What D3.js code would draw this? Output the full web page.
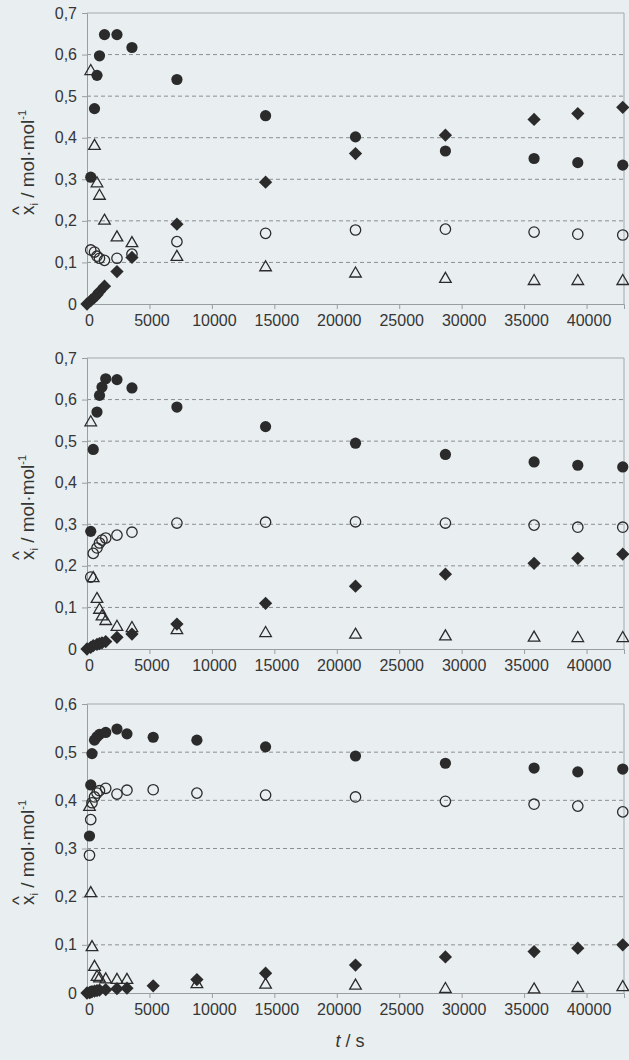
<!DOCTYPE html>
<html><head><meta charset="utf-8">
<script src="https://cdn.jsdelivr.net/npm/d3@7"></script>
<style>html,body{margin:0;padding:0;background:#e9eef0;} svg{display:block;}</style>
</head><body><svg id="c" width="629" height="1060"></svg>
<script>
// ---------- data ----------
const xTickValues = [0, 5000, 10000, 15000, 20000, 25000, 30000, 35000, 40000];
const yTicksA = [0, 0.1, 0.2, 0.3, 0.4, 0.5, 0.6, 0.7];
const yTicksB = [0, 0.1, 0.2, 0.3, 0.4, 0.5, 0.6];

// Panel 1
const time1 = [0, 300, 600, 800, 1000, 1400, 2400, 3600, 7200, 14300, 21500, 28700, 35800, 39300, 42900];
const filled1 = [null, 0.305, 0.47, 0.55, 0.597, 0.648, 0.648, 0.617, 0.54, 0.453, 0.402, 0.368, 0.35, 0.34, 0.334];
const open1 = [null, 0.13, 0.125, 0.115, 0.11, 0.105, 0.11, 0.12, 0.15, 0.17, 0.178, 0.18, 0.173, 0.168, 0.166];
const diamond1 = [0, 0.008, 0.016, 0.022, 0.03, 0.043, 0.078, 0.112, 0.192, 0.293, 0.362, 0.406, 0.444, 0.458, 0.473];
const triangle1 = [null, 0.56, 0.38, 0.29, 0.26, 0.2, 0.16, 0.146, 0.113, 0.088, 0.073, 0.06, 0.055, 0.055, 0.055];

// Panel 2
const time2 = [0, 300, 500, 800, 1000, 1200, 1500, 2400, 3600, 7200, 14300, 21500, 28700, 35800, 39300, 42900];
const filled2 = [null, 0.283, 0.48, 0.57, 0.61, 0.63, 0.65, 0.648, 0.628, 0.582, 0.535, 0.495, 0.468, 0.45, 0.442, 0.438];
const open2 = [null, 0.173, 0.23, 0.243, 0.255, 0.262, 0.267, 0.274, 0.281, 0.303, 0.305, 0.306, 0.303, 0.298, 0.293, 0.293];
const diamond2 = [0, 0.004, 0.008, 0.011, 0.013, 0.015, 0.018, 0.028, 0.036, 0.06, 0.11, 0.151, 0.18, 0.206, 0.218, 0.228];
const triangle2 = [null, 0.545, 0.17, 0.12, 0.094, 0.078, 0.067, 0.053, 0.05, 0.045, 0.038, 0.034, 0.03, 0.027, 0.026, 0.026];

// Panel 3
const time3 = [0, 200, 300, 400, 600, 800, 1000, 1500, 2400, 3200, 5300, 8800, 14300, 21500, 28700, 35800, 39300, 42900];
const filled3 = [null, 0.326, 0.432, 0.497, 0.525, 0.532, 0.537, 0.541, 0.548, 0.538, 0.531, 0.525, 0.511, 0.492, 0.477, 0.467, 0.459, 0.465];
const open3 = [null, 0.286, 0.36, 0.395, 0.407, 0.415, 0.42, 0.425, 0.413, 0.421, 0.422, 0.415, 0.411, 0.407, 0.398, 0.392, 0.388, 0.376];
const diamond3 = [0, 0.001, 0.002, 0.003, 0.004, 0.005, 0.006, 0.007, 0.009, 0.01, 0.015, 0.028, 0.041, 0.058, 0.075, 0.086, 0.093, 0.1];
const triangle3 = [null, 0.386, 0.207, 0.095, 0.054, 0.033, 0.03, 0.028, 0.027, 0.027, null, 0.018, 0.017, 0.015, 0.008, 0.007, 0.01, 0.012];

// ---------- layout ----------
const svg = d3.select('#c');
svg.append('rect').attr('width', 629).attr('height', 1060).attr('fill', '#e9eef0');
const font = 'Liberation Sans, Arial, sans-serif';
const ink = '#2b2b2b';
const textCol = '#363636';
const x = d3.scaleLinear().domain([0, 43000]).range([87, 624]);

const panels = [
  {t: time1, f: filled1, o: open1, d: diamond1, tr: triangle1, top: 13, bottom: 304, ymax: 0.7, ticks: yTicksA},
  {t: time2, f: filled2, o: open2, d: diamond2, tr: triangle2, top: 358, bottom: 649, ymax: 0.7, ticks: yTicksA},
  {t: time3, f: filled3, o: open3, d: diamond3, tr: triangle3, top: 704, bottom: 993, ymax: 0.6, ticks: yTicksB}
];

const fmtY = v => v === 0 ? '0' : v.toFixed(1).replace('.', ',');

const symCircle = d3.symbol().type(d3.symbolCircle).size(Math.PI * 5.6 * 5.6);
const symOpen = d3.symbol().type(d3.symbolCircle).size(Math.PI * 5.2 * 5.2);
const symSquare = d3.symbol().type(d3.symbolSquare).size(88);
const symTri = d3.symbol().type(d3.symbolTriangle).size(58);

panels.forEach((p, i) => {
  const y = d3.scaleLinear().domain([0, p.ymax]).range([p.bottom, p.top]);
  const g = svg.append('g');

  g.selectAll('line.grid').data(p.ticks.filter(v => v > 0 && v < p.ymax - 1e-9)).enter()
    .append('line')
    .attr('x1', x(0)).attr('x2', x.range()[1])
    .attr('y1', d => y(d)).attr('y2', d => y(d))
    .attr('stroke', '#8c8f90').attr('stroke-width', 1).attr('stroke-dasharray', '4,3');

  g.append('path')
    .attr('d', `M${x(0)},${p.top}H${x.range()[1]}V${p.bottom}`)
    .attr('fill', 'none').attr('stroke', '#a4a8aa').attr('stroke-width', 1);

  const yAxis = d3.axisLeft(y).tickValues(p.ticks).tickFormat(fmtY).tickSize(5).tickPadding(5);
  const ya = g.append('g').attr('transform', `translate(${x(0)},0)`).call(yAxis);
  ya.select('.domain').attr('stroke', '#9a9ea0');
  ya.selectAll('.tick line').attr('stroke', '#9a9ea0');
  ya.selectAll('.tick text').attr('font-family', font).attr('font-size', 16).attr('fill', textCol);

  const xAxis = d3.axisBottom(x).tickValues(xTickValues).tickFormat(d3.format('d')).tickSize(5).tickPadding(6);
  const xa = g.append('g').attr('transform', `translate(0,${p.bottom})`).call(xAxis);
  xa.select('.domain').attr('stroke', '#9a9ea0');
  xa.selectAll('.tick line').attr('stroke', '#9a9ea0');
  xa.selectAll('.tick text').attr('font-family', font).attr('font-size', 16).attr('fill', textCol)
    .attr('dx', 2);

  const pts = key => p.t.map((t, k) => ({t, v: p[key][k]})).filter(d => d.v !== null);

  g.selectAll('path.tri').data(pts('tr')).enter().append('path')
    .attr('d', symTri)
    .attr('transform', d => `translate(${x(d.t)},${y(d.v)})`)
    .attr('fill', 'none').attr('stroke', ink).attr('stroke-width', 1.3);
  g.selectAll('path.oc').data(pts('o')).enter().append('path')
    .attr('d', symOpen)
    .attr('transform', d => `translate(${x(d.t)},${y(d.v)})`)
    .attr('fill', 'none').attr('stroke', ink).attr('stroke-width', 1.3);
  g.selectAll('path.fc').data(pts('f')).enter().append('path')
    .attr('d', symCircle)
    .attr('transform', d => `translate(${x(d.t)},${y(d.v)})`)
    .attr('fill', ink);
  g.selectAll('path.dm').data(pts('d')).enter().append('path')
    .attr('d', symSquare)
    .attr('transform', d => `translate(${x(d.t)},${y(d.v)}) rotate(45)`)
    .attr('fill', ink);

  // y title
  const cy = (p.top + p.bottom) / 2 + 4;
  const tg = g.append('g').attr('transform', `translate(34,${cy}) rotate(-90)`);
  const tt = tg.append('text').attr('font-family', font).attr('font-size', 19).attr('fill', textCol)
    .attr('x', 0).attr('y', 0);
  tt.append('tspan').text('x');
  tt.append('tspan').attr('font-size', 11).attr('dy', 4).text('i');
  tt.append('tspan').attr('dy', -4).text(' / mol·mol');
  tt.append('tspan').attr('font-size', 11).attr('dy', -8).text('-1');
  const w = tt.node().getComputedTextLength();
  tt.attr('x', -w / 2);
  tg.append('text').attr('font-family', font).attr('font-size', 19).attr('fill', textCol)
    .attr('x', -w / 2).attr('y', -9).text('^');
});

const xt = svg.append('text').attr('x', 350).attr('y', 1047).attr('text-anchor', 'middle')
  .attr('font-family', font).attr('font-size', 18).attr('fill', textCol);
xt.append('tspan').attr('font-style', 'italic').text('t');
xt.append('tspan').text(' / s');
</script>
</body></html>
